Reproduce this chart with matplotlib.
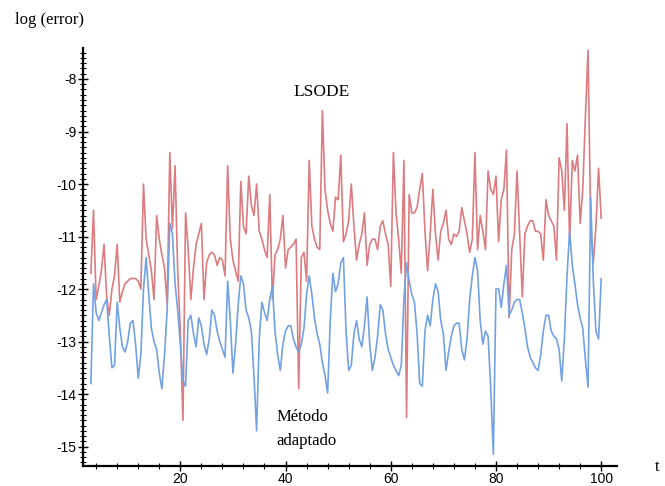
import numpy as np
import matplotlib
matplotlib.use("Agg")
import matplotlib.pyplot as plt
from matplotlib.ticker import MultipleLocator

plt.rcParams['axes.unicode_minus'] = False

# sample times (every 0.5 from t=3 to t=100)
t = np.arange(3.0, 100.01, 0.5)

# log(error) of the adapted method (blue)
err_adapt = [
    -13.8, -11.9, -12.45, -12.6, -12.45, -12.3, -12.2, -12.9, -13.5, -13.45,
    -12.25, -12.75, -13.1, -13.2, -13.0, -12.65, -12.6, -13.05, -13.7, -13.25,
    -12.0, -11.4, -12.1, -12.75, -13.0, -13.15, -13.6, -13.9, -13.25, -12.4,
    -10.75, -10.95, -11.9, -12.4, -13.05, -13.75, -13.85, -12.6, -12.5, -12.85,
    -13.1, -12.55, -12.7, -13.05, -13.25, -12.95, -12.4, -12.5, -12.8, -13.0,
    -13.15, -13.3, -11.85, -12.6, -13.6, -13.05, -12.3, -11.75, -11.9, -12.4,
    -12.55, -12.8, -13.65, -14.7, -12.95, -12.25, -12.45, -12.6, -12.2, -11.95,
    -12.8, -13.25, -13.55, -13.05, -12.8, -12.7, -12.7, -12.95, -13.1, -13.2,
    -13.05, -12.75, -12.1, -11.75, -12.1, -12.55, -12.85, -13.05, -13.4, -13.65,
    -13.98, -12.6, -11.7, -12.05, -11.9, -11.5, -11.4, -12.8, -13.55, -13.45,
    -12.85, -12.6, -12.95, -13.1, -12.7, -12.15, -13.05, -13.55, -13.3, -12.9,
    -12.3, -12.4, -12.85, -13.15, -13.3, -13.45, -13.55, -13.65, -13.45, -12.2,
    -11.5, -11.85, -12.1, -12.25, -12.85, -13.8, -13.85, -12.8, -12.5, -12.7,
    -12.2, -11.9, -12.05, -12.6, -12.85, -13.55, -13.2, -12.9, -12.7, -12.65,
    -12.65, -13.15, -13.35, -12.95, -12.2, -11.75, -11.4, -11.65, -12.6, -13.05,
    -12.8, -12.9, -13.9, -15.15, -12.0, -12.0, -12.35, -11.9, -11.55, -12.5,
    -12.4, -12.25, -12.2, -12.2, -12.45, -12.75, -13.1, -13.3, -13.4, -13.5,
    -13.55, -13.25, -12.8, -12.5, -12.5, -12.8, -12.9, -12.95, -13.15, -13.75,
    -12.95, -11.75, -10.9, -11.55, -11.9, -12.3, -12.55, -12.75, -13.35, -13.87,
    -10.25, -11.85, -12.8, -12.95, -11.8,
]

# log(error) of LSODE (red)
err_lsode = [
    -11.7, -10.5, -12.2, -11.95, -11.65, -11.15, -12.15, -12.5, -12.0, -11.75,
    -11.15, -12.25, -12.05, -11.9, -11.85, -11.8, -11.8, -11.8, -11.85, -12.0,
    -10.0, -11.05, -11.35, -11.65, -12.2, -10.6, -11.05, -11.35, -11.6, -12.3,
    -9.4, -10.85, -9.65, -11.65, -12.8, -14.5, -10.55, -11.25, -12.2, -11.6,
    -11.15, -10.95, -10.75, -12.2, -11.5, -11.35, -11.3, -11.35, -11.55, -11.4,
    -11.45, -11.75, -9.65, -11.05, -11.45, -11.65, -11.85, -9.95, -10.8, -10.95,
    -9.85, -10.4, -10.6, -10.0, -10.9, -11.05, -11.25, -11.4, -10.2, -12.2,
    -11.35, -11.25, -11.05, -10.6, -11.6, -11.25, -11.2, -11.15, -11.05, -13.9,
    -11.4, -11.3, -11.85, -9.55, -10.8, -11.05, -11.2, -11.25, -8.6, -10.1,
    -10.5, -10.75, -10.9, -10.25, -10.3, -9.45, -11.1, -10.95, -10.7, -10.0,
    -10.8, -11.45, -11.15, -10.95, -10.55, -11.55, -11.15, -11.05, -11.05, -11.25,
    -10.8, -10.7, -10.95, -11.15, -11.95, -9.4, -10.55, -11.05, -11.7, -9.55,
    -14.45, -10.2, -10.55, -10.55, -10.45, -10.1, -9.8, -10.9, -11.65, -10.95,
    -10.1, -10.95, -11.45, -10.9, -10.75, -10.5, -11.05, -11.15, -10.95, -11.0,
    -10.9, -10.45, -10.7, -10.95, -11.3, -11.05, -9.4, -11.25, -10.6, -10.9,
    -11.25, -9.75, -10.1, -10.2, -9.85, -11.1, -10.3, -10.1, -9.35, -12.55,
    -11.25, -10.95, -9.75, -10.95, -12.15, -10.95, -10.8, -10.7, -10.7, -10.9,
    -10.9, -10.95, -11.45, -10.3, -10.6, -10.7, -10.8, -11.45, -9.5, -9.75,
    -10.5, -8.85, -11.1, -9.55, -9.75, -9.45, -10.75, -10.1, -8.7, -7.45,
    -10.8, -11.5, -10.8, -9.7, -10.65,
]

fig = plt.figure(figsize=(6.65, 4.86), dpi=100)
ax = fig.add_axes([0.1248, 0.0412, 0.803, 0.860])

ax.plot(t, err_lsode, color='#db7c80', lw=1.2)
ax.plot(t, err_adapt, color='#72a2e2', lw=1.2)

ax.set_xlim(1.5, 103)
ax.set_ylim(-15.37, -7.41)

for s in ['top', 'right']:
    ax.spines[s].set_visible(False)
for s in ['left', 'bottom']:
    ax.spines[s].set_linewidth(1.6)

ax.xaxis.set_minor_locator(MultipleLocator(4))
ax.yaxis.set_minor_locator(MultipleLocator(0.1))
ax.tick_params(which='major', direction='inout', length=7, width=1.0,
               labelsize=10, pad=1)
ax.tick_params(which='minor', direction='inout', length=4, width=0.8)
ax.set_xticks([20, 40, 60, 80, 100])
ax.set_yticks([-8, -9, -10, -11, -12, -13, -14, -15])
for lab in ax.get_xticklabels() + ax.get_yticklabels():
    lab.set_family('Liberation Sans')

serif = 'Liberation Serif'
fig.text(15 / 665, 1 - 20 / 486, 'log (error)', family=serif, fontsize=12,
         ha='left', va='center')
fig.text(657 / 665, 1 - 467 / 486, 't', family=serif, fontsize=12,
         ha='center', va='center')
ax.text(46.8, -8.25, 'LSODE', family=serif, fontsize=12.5, ha='center', va='center')
ax.text(38.3, -14.43, 'Método', family=serif, fontsize=12, ha='left', va='center')
ax.text(38.3, -14.9, 'adaptado', family=serif, fontsize=12, ha='left', va='center')

fig.savefig('out.png', dpi=100)
